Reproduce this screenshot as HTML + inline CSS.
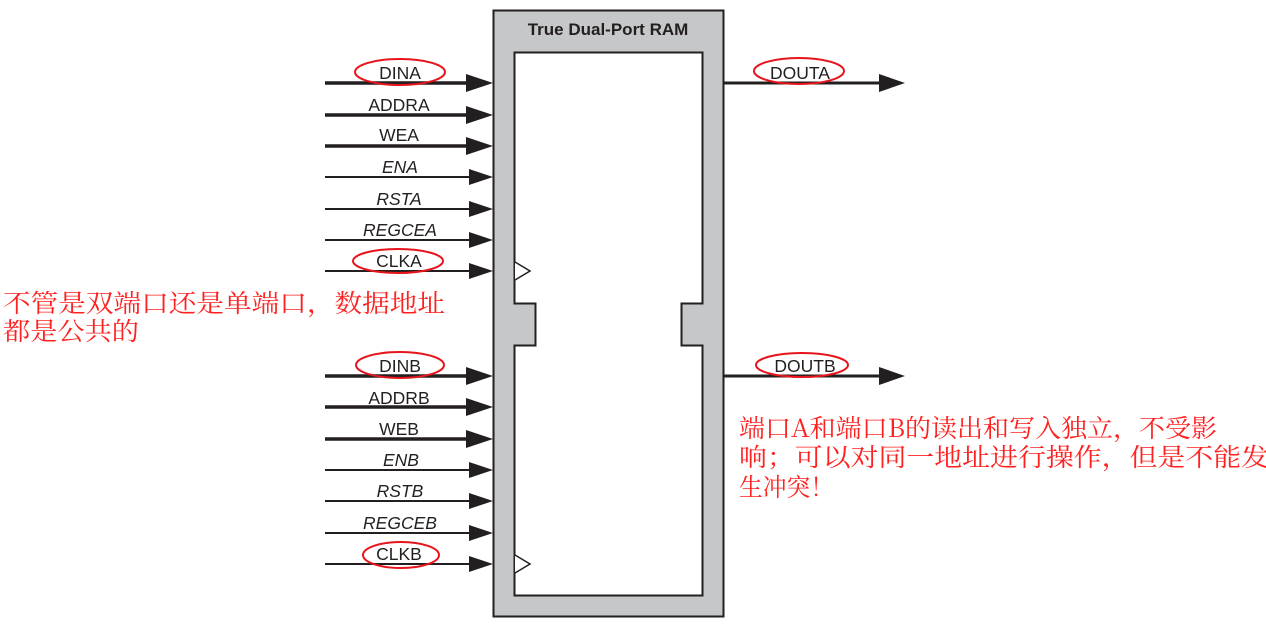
<!DOCTYPE html>
<html><head><meta charset="utf-8"><style>
html,body{margin:0;padding:0;background:#fff;width:1266px;height:640px;overflow:hidden}
svg{display:block}
.l{font-family:"Liberation Sans",Arial,sans-serif;font-size:17.5px;fill:#231f20;text-anchor:middle}
.i{font-style:italic}
.cn{font-family:"Noto Serif CJK SC","Liberation Serif",serif;font-size:25px;fill:#ff2020}
</style></head><body>
<svg width="1266" height="640" viewBox="0 0 1266 640" xmlns="http://www.w3.org/2000/svg">
<rect x="493.5" y="10.5" width="230" height="606" fill="#c6c7c9" stroke="#231f20" stroke-width="2"/>
<path d="M514.5 52.5 H702.5 V303.5 H681.5 V345.5 H702.5 V595.5 H514.5 V345.5 H535.5 V303.5 H514.5 Z" fill="#fff" stroke="#231f20" stroke-width="2"/>
<text x="608" y="35" style="font-family:'Liberation Sans',Arial,sans-serif;font-size:17px;font-weight:bold;fill:#231f20;text-anchor:middle">True Dual-Port RAM</text>
<path d="M515 262 L530 271 L515 280" fill="#fff" stroke="#231f20" stroke-width="1.5"/>
<path d="M515 555 L530 564 L515 573" fill="#fff" stroke="#231f20" stroke-width="1.5"/>
<g stroke="#231f20" fill="#231f20">
<line x1="325" y1="83" x2="470" y2="83" stroke-width="3.5"/><path d="M466 74 L493 83 L466 92Z" stroke="none"/>
<line x1="325" y1="115" x2="470" y2="115" stroke-width="3.5"/><path d="M466 106 L493 115 L466 124Z" stroke="none"/>
<line x1="325" y1="146" x2="470" y2="146" stroke-width="3.5"/><path d="M466 137 L493 146 L466 155Z" stroke="none"/>
<line x1="325" y1="177" x2="470" y2="177" stroke-width="2"/><path d="M469 169 L493 177 L469 185Z" stroke="none"/>
<line x1="325" y1="209" x2="470" y2="209" stroke-width="2"/><path d="M469 201 L493 209 L469 217Z" stroke="none"/>
<line x1="325" y1="240" x2="470" y2="240" stroke-width="2"/><path d="M469 232 L493 240 L469 248Z" stroke="none"/>
<line x1="325" y1="271" x2="470" y2="271" stroke-width="2"/><path d="M469 263 L493 271 L469 279Z" stroke="none"/>
<line x1="325" y1="376" x2="470" y2="376" stroke-width="3.5"/><path d="M466 367 L493 376 L466 385Z" stroke="none"/>
<line x1="325" y1="407" x2="470" y2="407" stroke-width="3.5"/><path d="M466 398 L493 407 L466 416Z" stroke="none"/>
<line x1="325" y1="439" x2="470" y2="439" stroke-width="3.5"/><path d="M466 430 L493 439 L466 448Z" stroke="none"/>
<line x1="325" y1="470" x2="470" y2="470" stroke-width="2"/><path d="M469 462 L493 470 L469 478Z" stroke="none"/>
<line x1="325" y1="501" x2="470" y2="501" stroke-width="2"/><path d="M469 493 L493 501 L469 509Z" stroke="none"/>
<line x1="325" y1="533" x2="470" y2="533" stroke-width="2"/><path d="M469 525 L493 533 L469 541Z" stroke="none"/>
<line x1="325" y1="564" x2="470" y2="564" stroke-width="2"/><path d="M469 556 L493 564 L469 572Z" stroke="none"/>
<line x1="724" y1="83" x2="885" y2="83" stroke-width="3"/><path d="M879 74 L905 83 L879 92Z" stroke="none"/>
<line x1="724" y1="376" x2="885" y2="376" stroke-width="3"/><path d="M879 367 L905 376 L879 385Z" stroke="none"/>
</g>
<g class="l">
<text x="400" y="79">DINA</text>
<text x="399" y="111">ADDRA</text>
<text x="399" y="141">WEA</text>
<text x="400" y="173" class="i">ENA</text>
<text x="399" y="205" class="i">RSTA</text>
<text x="400" y="236" class="i">REGCEA</text>
<text x="399" y="267">CLKA</text>
<text x="400" y="372">DINB</text>
<text x="399" y="404">ADDRB</text>
<text x="399" y="435">WEB</text>
<text x="401" y="466" class="i">ENB</text>
<text x="400" y="497" class="i">RSTB</text>
<text x="400" y="529" class="i">REGCEB</text>
<text x="399" y="560">CLKB</text>
<text x="800" y="79">DOUTA</text>
<text x="805" y="372">DOUTB</text>
</g>
<g fill="none" stroke="#e8141c" stroke-width="2">
<ellipse cx="400" cy="72" rx="45" ry="13"/>
<ellipse cx="398" cy="261" rx="45" ry="12"/>
<ellipse cx="400" cy="365" rx="44" ry="13"/>
<ellipse cx="401" cy="555" rx="38" ry="13"/>
<ellipse cx="799" cy="71" rx="45" ry="13"/>
<ellipse cx="802" cy="365" rx="46" ry="12"/>
</g>
<text class="cn" x="3" y="312" textLength="442" lengthAdjust="spacingAndGlyphs">不管是双端口还是单端口，数据地址</text>
<text class="cn" x="3" y="340" textLength="136" lengthAdjust="spacingAndGlyphs">都是公共的</text>
<text class="cn" x="739" y="437" textLength="478" lengthAdjust="spacingAndGlyphs">端口A和端口B的读出和写入独立，不受影</text>
<text class="cn" x="739" y="466" textLength="530" lengthAdjust="spacingAndGlyphs">响；可以对同一地址进行操作，但是不能发</text>
<text class="cn" x="739" y="496" textLength="95" lengthAdjust="spacingAndGlyphs">生冲突！</text>
</svg>
</body></html>
